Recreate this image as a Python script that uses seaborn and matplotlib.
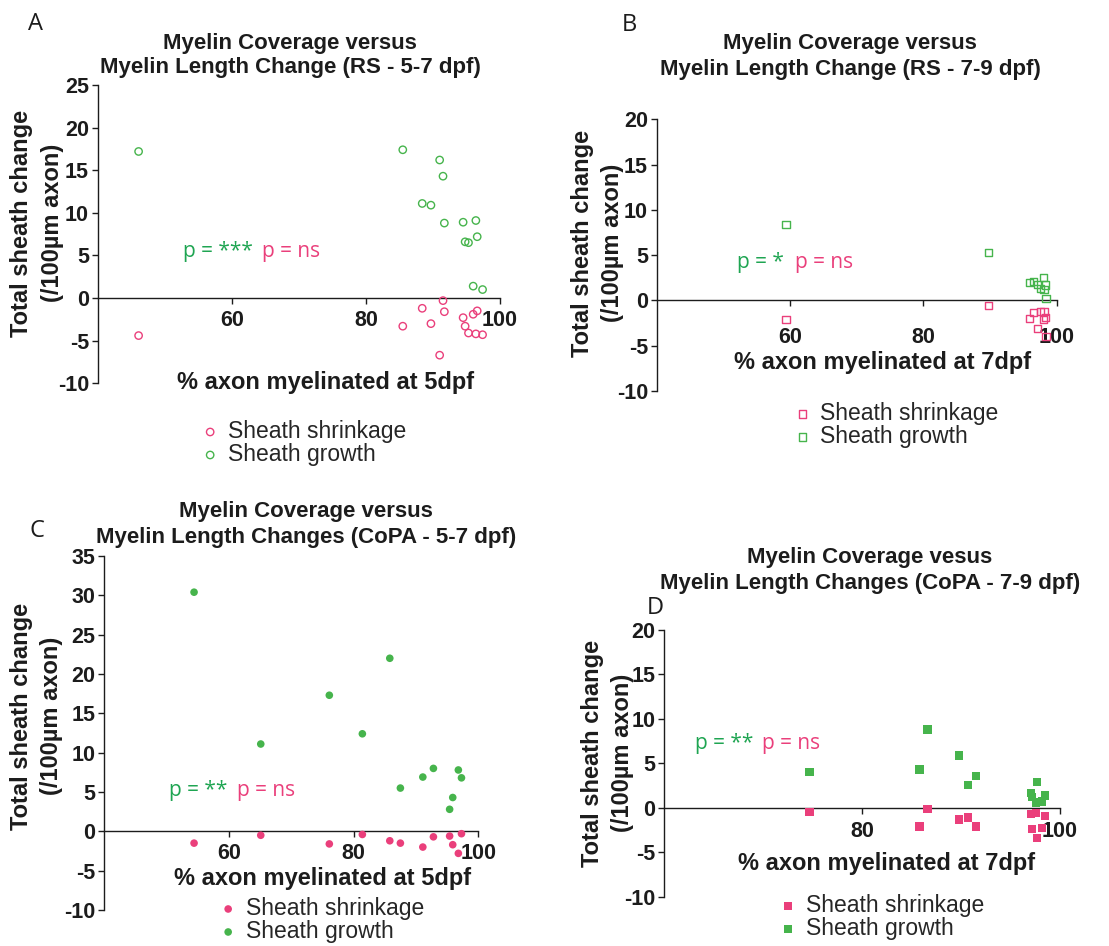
import numpy as np
import pandas as pd
import matplotlib
matplotlib.use("Agg")
import matplotlib.pyplot as plt
import seaborn as sns

# ---- data: % axon myelinated (x) and total sheath change per fish ----
# Panel A: RS, 5-7 dpf
x_A = [46.1, 85.5, 91.0, 91.5, 88.4, 89.7, 91.7, 94.5, 96.4, 94.8, 95.3, 96.6, 96.0, 97.4]
growth_A = [17.2, 17.4, 16.2, 14.3, 11.1, 10.9, 8.8, 8.9, 9.1, 6.6, 6.5, 7.2, 1.4, 1.0]
shrink_A = [-4.4, -3.3, -6.7, -0.3, -1.2, -3.0, -1.6, -2.3, -4.2, -3.3, -4.1, -1.5, -1.9, -4.3]

# Panel B: RS, 7-9 dpf
x_B = [59.4, 89.8, 95.9, 96.5, 97.1, 97.6, 98.0, 98.1, 98.3, 98.4]
growth_B = [8.4, 5.3, 2.0, 2.1, 1.8, 1.3, 2.5, 1.2, 1.7, 0.2]
shrink_B = [-2.1, -0.6, -2.0, -1.3, -3.1, -1.2, -2.1, -1.2, -1.9, -4.0]

# Panel C: CoPA, 5-7 dpf
x_C = [54.4, 65.1, 76.1, 81.4, 85.8, 87.5, 91.1, 92.8, 95.4, 95.9, 96.8, 97.3]
growth_C = [30.4, 11.1, 17.3, 12.4, 22.0, 5.5, 6.9, 8.0, 2.8, 4.3, 7.8, 6.8]
shrink_C = [-1.5, -0.5, -1.6, -0.4, -1.2, -1.5, -2.0, -0.7, -0.6, -1.7, -2.8, -0.3]

# Panel D: CoPA, 7-9 dpf
x_D = [74.7, 85.8, 86.6, 89.8, 90.7, 91.5, 97.1, 97.2, 97.6, 97.7, 98.2, 98.5]
growth_D = [4.0, 4.3, 8.8, 5.9, 2.6, 3.6, 1.7, 1.2, 0.6, 2.9, 0.7, 1.4]
shrink_D = [-0.5, -2.1, -0.1, -1.3, -1.1, -2.1, -0.7, -2.4, -0.6, -3.4, -2.3, -0.9]

series_labels = ["Sheath shrinkage", "Sheath growth"]
titles = {
    "A": ["Myelin Coverage versus", "Myelin Length Change (RS - 5-7 dpf)"],
    "B": ["Myelin Coverage versus", "Myelin Length Change (RS - 7-9 dpf)"],
    "C": ["Myelin Coverage versus", "Myelin Length Changes (CoPA - 5-7 dpf)"],
    "D": ["Myelin Coverage vesus", "Myelin Length Changes (CoPA - 7-9 dpf)"],
}
xlabels = {"A": "% axon myelinated at 5dpf", "B": "% axon myelinated at 7dpf",
           "C": "% axon myelinated at 5dpf", "D": "% axon myelinated at 7dpf"}
ylabel_lines = ["Total sheath change", "(/100\u00b5m axon)"]
p_growth = {"A": "p = ***", "B": "p = *", "C": "p = **", "D": "p = **"}
p_shrink = "p = ns"

# ---- style ----
sns.set_theme(style="ticks")
plt.rcParams["font.family"] = ["Liberation Sans", "DejaVu Sans"]
plt.rcParams["axes.unicode_minus"] = False

PINK = "#EA3F7B"
GREEN = "#46B44C"
GREEN_TXT = "#1FA552"
INK = "#1C1C1C"
SOFT_FONT = ["Open Sans", "DejaVu Sans"]

W, H = 1109, 946
fig = plt.figure(figsize=(W / 100, H / 100), dpi=100)


def fx(px):
    return px / W


def fy(py):
    return 1 - py / H


def txt(px, py, s, **kw):
    fig.text(fx(px), fy(py), s, **kw)


# layout of each panel in pixels: axes box, ranges, label placements
panels = {
    "A": dict(x=x_A, g=growth_A, p=shrink_A, box=(97.7, 85, 500, 383.3), xlim=(40, 100),
              ylim=(-10, 25), xticks=[60, 80, 100], marker="o", filled=False, s=28, xpad=4,
              letter=(36, 24), title=(290, 44, 68), ylab=(22, 53, 223), xlab=(326, 382),
              ptxt=(183, 262, 252), leg=(210, 443)),
    "B": dict(x=x_B, g=growth_B, p=shrink_B, box=(656.7, 119.3, 1056.7, 391), xlim=(40, 100),
              ylim=(-10, 20), xticks=[60, 80, 100], marker="s", filled=False, s=26, xpad=15,
              letter=(629, 25), title=(850, 44, 69), ylab=(582, 612, 243), xlab=(883, 362),
              ptxt=(737, 795, 262), leg=(802, 425)),
    "C": dict(x=x_C, g=growth_C, p=shrink_C, box=(104.3, 556, 478.3, 910), xlim=(40, 100),
              ylim=(-10, 35), xticks=[60, 80, 100], marker="o", filled=True, s=30, xpad=4,
              letter=(37, 531), title=(306, 511, 537), ylab=(22, 52, 716), xlab=(323, 878),
              ptxt=(169, 237, 790), leg=(228, 920)),
    "D": dict(x=x_D, g=growth_D, p=shrink_D, box=(664, 630, 1060, 896.7), xlim=(60, 100),
              ylim=(-10, 20), xticks=[80, 100], marker="s", filled=True, s=36, xpad=5,
              letter=(655, 608), title=(870, 558, 583), ylab=(592, 622, 753), xlab=(887, 863),
              ptxt=(695, 762, 743), leg=(788, 917)),
}

for key, P in panels.items():
    l, t, r, b = P["box"]
    ax = fig.add_axes([fx(l), fy(b), (r - l) / W, (b - t) / H])
    ax.patch.set_alpha(0)

    for vals, col, lab in ((P["p"], PINK, series_labels[0]), (P["g"], GREEN, series_labels[1])):
        df = pd.DataFrame({"pct": P["x"], "change": vals})
        if P["filled"]:
            sns.scatterplot(data=df, x="pct", y="change", ax=ax, marker=P["marker"], s=P["s"],
                            color=col, edgecolor="none", linewidth=0, label=lab, clip_on=False,
                            zorder=3)
        else:
            sns.scatterplot(data=df, x="pct", y="change", ax=ax, marker=P["marker"], s=P["s"],
                            color=col, facecolor="none", edgecolor=col, linewidth=1.0,
                            label=lab, clip_on=False, zorder=3)

    ax.set_xlim(*P["xlim"])
    ax.set_ylim(*P["ylim"])
    ax.set_xticks(P["xticks"])
    ax.set_yticks(np.arange(P["ylim"][0], P["ylim"][1] + 1, 5))
    ax.set_xlabel("")
    ax.set_ylabel("")
    ax.spines["bottom"].set_position(("data", 0))
    ax.spines[["top", "right"]].set_visible(False)
    for sp in ("left", "bottom"):
        ax.spines[sp].set_linewidth(1.0)
        ax.spines[sp].set_color(INK)
    ax.tick_params(axis="both", direction="out", length=4.3, width=1.0, color=INK,
                   labelsize=15.5, labelcolor=INK)
    ax.tick_params(axis="x", pad=P["xpad"])
    ax.tick_params(axis="y", pad=2.0)
    for lab in ax.get_xticklabels() + ax.get_yticklabels():
        lab.set_fontweight("bold")

    # legend below each panel
    lx, ly = P["leg"]
    ax.legend(loc="center left", bbox_to_anchor=(fx(lx - 9), fy(ly)),
              bbox_transform=fig.transFigure, frameon=False,
              handlelength=0.8, handletextpad=0.4, labelspacing=0.0, borderpad=0,
              borderaxespad=0, markerscale=1.0, prop={"family": ["Liberation Sans"], "size": 16.5})

    # panel letter and title
    txt(*P["letter"], key, fontsize=17, family=SOFT_FONT, color=INK, ha="center", va="center")
    cx, y1, y2 = P["title"]
    txt(cx, y1, titles[key][0], fontsize=16, fontweight="bold", color=INK,
        ha="center", va="center")
    txt(cx, y2, titles[key][1], fontsize=16, fontweight="bold", color=INK,
        ha="center", va="center")

    # axis titles
    a1, a2, yc = P["ylab"]
    txt(a1, yc, ylabel_lines[0], fontsize=17, fontweight="bold", color=INK,
        rotation=90, ha="center", va="center")
    txt(a2, yc, ylabel_lines[1], fontsize=17, fontweight="bold", color=INK,
        rotation=90, ha="center", va="center")
    txt(*P["xlab"], xlabels[key], fontsize=17, fontweight="bold", color=INK,
        ha="center", va="center")

    # significance notes
    gx, px_, py = P["ptxt"]
    txt(gx, py, p_growth[key], fontsize=15, family=SOFT_FONT, color=GREEN_TXT,
        ha="left", va="center")
    txt(px_, py, p_shrink, fontsize=15, family=SOFT_FONT, color=PINK, ha="left", va="center")

fig.savefig("out.png", dpi=100)
